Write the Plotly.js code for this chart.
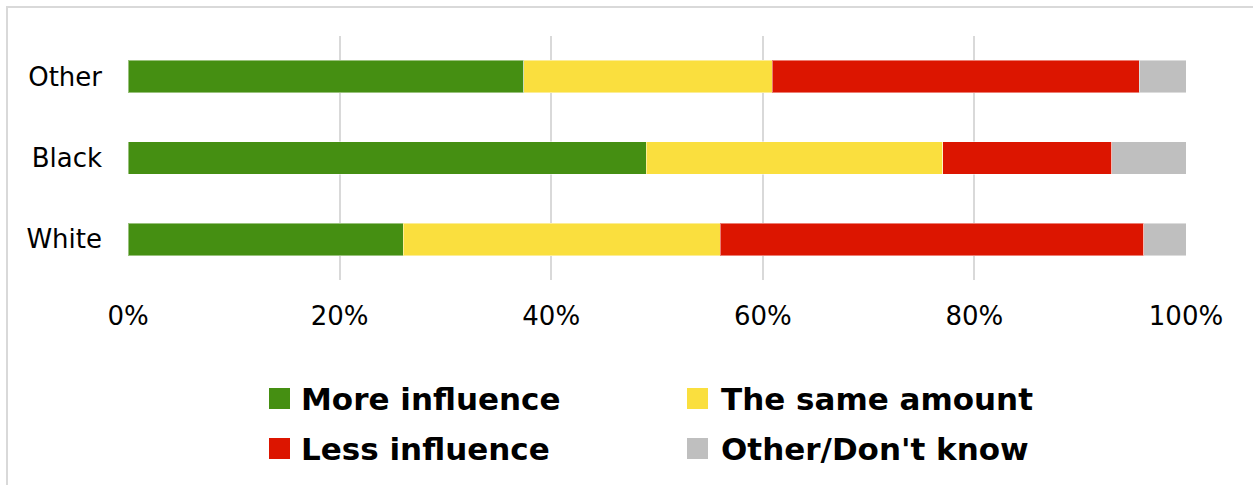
<!DOCTYPE html>
<html>
<head>
<meta charset="utf-8">
<script src="https://cdn.plot.ly/plotly-3.0.1.min.js"></script>
<style>
html,body{margin:0;padding:0;background:#fff;}
#chart{width:1253px;height:485px;}
</style>
</head>
<body>
<div id="chart"></div>
<script>
var categories = ["White", "Black", "Other"];
var seriesNames = ["More influence", "The same amount", "Less influence", "Other/Don't know"];
var moreInfluence = [26.0, 49.0, 37.4];
var sameAmount = [30.0, 28.0, 23.5];
var lessInfluence = [40.0, 16.0, 34.7];
var otherDontKnow = [4.0, 7.0, 4.4];
var tickVals = [0, 20, 40, 60, 80, 100];
var tickText = ["0%", "20%", "40%", "60%", "80%", "100%"];
var colors = ["#458f12", "#fadf3e", "#dc1500", "#bfbfbf"];

var seriesValues = [moreInfluence, sameAmount, lessInfluence, otherDontKnow];

var W = 1253, H = 485;
var M = {l: 128, r: 67, t: 36, b: 205};
var pw = W - M.l - M.r, ph = H - M.t - M.b;
function px(x){ return (x - M.l) / pw; }
function py(y){ return (H - M.b - y) / ph; }

var traces = seriesValues.map(function(vals, i){
  return {
    type: "bar",
    orientation: "h",
    name: seriesNames[i],
    y: categories,
    x: vals,
    width: 0.4,
    marker: {color: colors[i], line: {color: "rgba(255,255,255,0.45)", width: 1}},
    showlegend: false,
    hoverinfo: "x+y+name"
  };
});

var shapes = [{
  type: "rect", xref: "paper", yref: "paper",
  x0: px(7), x1: px(1270), y0: py(7), y1: py(500),
  line: {color: "#d9d9d9", width: 2}, fillcolor: "rgba(0,0,0,0)", layer: "below"
}];
var annotations = [];
var legCols = [[269, 299], [687, 719]];
var legRows = [398.5, 448.5];
var order = [[0,0],[0,1],[1,0],[1,1]]; // [row, col] for each series
seriesNames.forEach(function(name, i){
  var r = order[i][0], c = order[i][1];
  var sx = legCols[c][0], tx = legCols[c][1], cy = legRows[r];
  shapes.push({
    type: "rect", xref: "paper", yref: "paper",
    x0: px(sx), x1: px(sx + 21), y0: py(cy - 10.5), y1: py(cy + 10.5),
    line: {width: 0}, fillcolor: colors[i]
  });
  annotations.push({
    xref: "paper", yref: "paper", x: px(tx), y: py(cy),
    xanchor: "left", yanchor: "middle", showarrow: false,
    text: "<b>" + name + "</b>",
    font: {family: "DejaVu Sans", size: 31, color: "#000"}
  });
});

var layout = {
  width: W, height: H,
  margin: M,
  barmode: "stack",
  paper_bgcolor: "#fff",
  plot_bgcolor: "#fff",
  showlegend: false,
  font: {family: "DejaVu Sans", color: "#000"},
  xaxis: {
    range: [0, 100],
    tickvals: tickVals,
    ticktext: tickText,
    showgrid: true,
    gridcolor: "#d9d9d9",
    gridwidth: 2,
    zeroline: false,
    showline: false,
    ticks: "",
    ticklabelstandoff: 18,
    tickfont: {family: "DejaVu Sans", size: 26, color: "#000"}
  },
  yaxis: {
    type: "category",
    categoryarray: categories,
    range: [-0.5, 2.5],
    showgrid: false,
    zeroline: false,
    showline: false,
    ticks: "",
    ticklabelstandoff: 25,
    tickfont: {family: "DejaVu Sans", size: 26, color: "#000"}
  },
  shapes: shapes,
  annotations: annotations
};

Plotly.newPlot("chart", traces, layout, {displayModeBar: false, staticPlot: true});
</script>
</body>
</html>
